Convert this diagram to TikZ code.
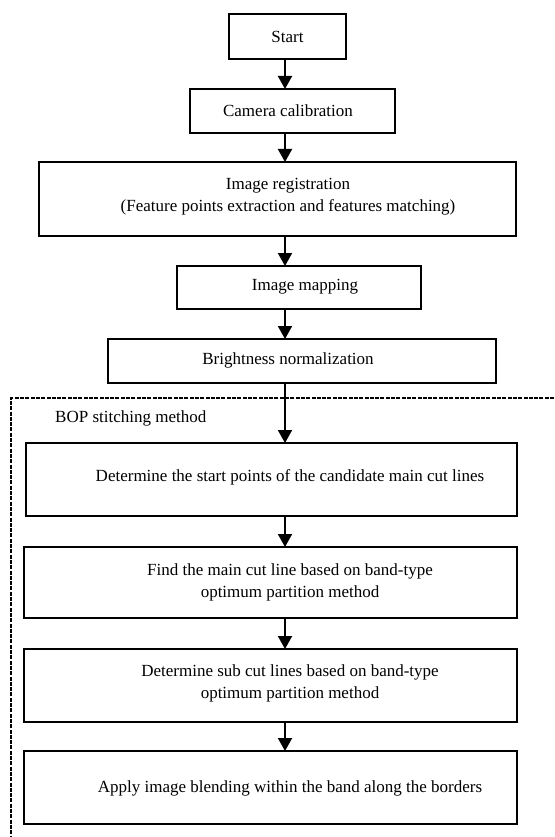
\documentclass[tikz,border=0pt]{standalone}
\usepackage{fontspec}
\setmainfont{Liberation Serif}
\usetikzlibrary{arrows.meta}
\begin{document}
\begin{tikzpicture}[x=1pt,y=-1pt,
  box/.style={draw, line width=2.4pt, inner sep=0pt, outer sep=0pt},
  txt/.style={inner sep=0pt, align=center, font=\fontsize{17}{22}\selectfont},
  arr/.style={line width=2pt, -{Triangle[width=14pt,length=13pt]}},
  frame/.style={line width=1.3pt, dash pattern=on 4pt off 1.3pt}]
\useasboundingbox (0,0) rectangle (554,837);
% boxes
\node[box, minimum width=117pt, minimum height=45pt] (start) at (287.5,36.5) {};
\node[box, minimum width=205pt, minimum height=44pt] (cam) at (292.5,111) {};
\node[box, minimum width=477pt, minimum height=74pt] (reg) at (277.5,199) {};
\node[box, minimum width=244pt, minimum height=43pt] (map) at (299,287.5) {};
\node[box, minimum width=388pt, minimum height=44pt] (bright) at (302,361) {};
\node[box, minimum width=491pt, minimum height=73pt] (det) at (271.5,479.5) {};
\node[box, minimum width=493pt, minimum height=71pt] (find) at (270.5,582.5) {};
\node[box, minimum width=493pt, minimum height=73pt] (sub) at (270.5,685.5) {};
\node[box, minimum width=493pt, minimum height=73pt] (apply) at (270.5,787.5) {};
% texts
\node[txt] (tstart) at (287.5,37) {Start};
\node[txt] (tcam) at (288,111) {Camera calibration};
\node[txt] (treg) at (288,197) {Image registration\\(Feature points extraction and features matching)};
\node[txt] (tmap) at (305,287) {Image mapping};
\node[txt] (tbright) at (288,360) {Brightness normalization};
\node[txt, anchor=west] (tbop) at (55,418) {BOP stitching method};
\node[txt] (tdet) at (290,477) {Determine the start points of the candidate main cut lines};
\node[txt] (tfind) at (290,582) {Find the main cut line based on band-type\\optimum partition method};
\node[txt] (tsub) at (290,683) {Determine sub cut lines based on band-type\\optimum partition method};
\node[txt] (tapply) at (290,788) {Apply image blending within the band along the borders};
% dashed frame
\coordinate (ftr) at (554,398);
\coordinate (ftl) at (11,398);
\coordinate (fbl) at (11,837);
\draw[frame] (ftr) -- (ftl) -- (fbl);
% arrows
\coordinate (ax) at (285,0);
\draw[arr] (start.south -| ax) -- (cam.north -| ax);
\draw[arr] (cam.south -| ax) -- (reg.north -| ax);
\draw[arr] (reg.south -| ax) -- (map.north -| ax);
\draw[arr] (map.south -| ax) -- (bright.north -| ax);
\draw[arr] (bright.south -| ax) -- (det.north -| ax);
\draw[arr] (det.south -| ax) -- (find.north -| ax);
\draw[arr] (find.south -| ax) -- (sub.north -| ax);
\draw[arr] (sub.south -| ax) -- (apply.north -| ax);
\end{tikzpicture}
\end{document}
